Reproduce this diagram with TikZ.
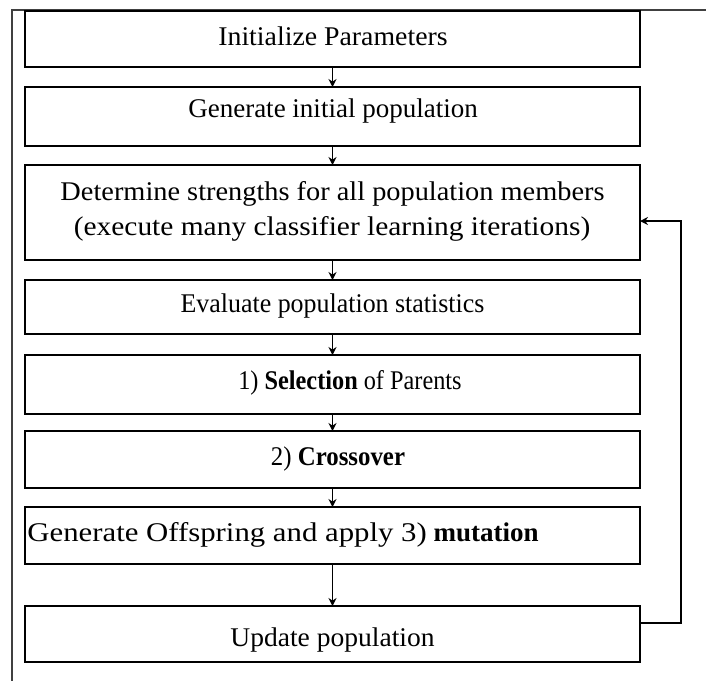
\documentclass[tikz,border=0pt]{standalone}
\usepackage{fontspec}
\setmainfont{Liberation Serif}
\usetikzlibrary{arrows.meta}
\newcommand{\wide}[2]{\scalebox{#1}[1]{#2}}
\begin{document}
\begin{tikzpicture}[x=0.5pt,y=-0.5pt,
  stagebox/.style={draw=black,line width=1.1pt,fill=white},
  lbl/.style={font=\fontsize{13.5}{16}\selectfont,inner sep=0pt},
  flow/.style={draw=black,line width=0.6pt,-{Stealth[length=4pt,width=4pt]}},
  frameline/.style={draw=black!75,line width=0.6pt}]
  \useasboundingbox (0,0) rectangle (706,681);
  % outer frame (top and left sides only)
  \draw[frameline] (706,10) -- (12,10) -- (12,681);
  % process stages
  \draw[stagebox] (25,11) rectangle (640,67);
  \draw[stagebox] (25,87) rectangle (640,146);
  \draw[stagebox] (25,165) rectangle (640,260);
  \draw[stagebox] (25,280) rectangle (640,334);
  \draw[stagebox] (25,355) rectangle (640,414);
  \draw[stagebox] (25,431) rectangle (640,488);
  \draw[stagebox] (25,507) rectangle (640,564);
  \draw[stagebox] (25,606) rectangle (640,662);
  \coordinate (b1) at (332.5,67);  \coordinate (t2) at (332.5,87);
  \coordinate (b2) at (332.5,146); \coordinate (t3) at (332.5,165);
  \coordinate (b3) at (332.5,260); \coordinate (t4) at (332.5,280);
  \coordinate (b4) at (332.5,334); \coordinate (t5) at (332.5,355);
  \coordinate (b5) at (332.5,414); \coordinate (t6) at (332.5,431);
  \coordinate (b6) at (332.5,488); \coordinate (t7) at (332.5,507);
  \coordinate (b7) at (332.5,564); \coordinate (t8) at (332.5,606);
  \coordinate (r8) at (640,623);   \coordinate (r3) at (640,221);
  \coordinate (loopA) at (681,623); \coordinate (loopB) at (681,221);
  % labels
  \node[lbl] (n1) at (333,36) {\wide{1.03}{Initialize Parameters}};
  \node[lbl] (n2) at (333,111) {Generate initial population};
  \node[lbl] (n3a) at (332.5,194) {\wide{1.05}{Determine strengths for all population members}};
  \node[lbl] (n3b) at (332,229) {\wide{1.09}{(execute many classifier learning iterations)}};
  \node[lbl] (n4) at (332.5,306) {\wide{0.96}{Evaluate population statistics}};
  \node[lbl] (n5) at (350,383) {\wide{0.9}{1) \textbf{Selection} of Parents}};
  \node[lbl] (n6) at (338,459) {\wide{0.92}{2) \textbf{Crossover}}};
  \node[lbl,anchor=west] (n7) at (27,535) {\wide{1.14}{Generate Offspring and apply 3)} \textbf{mutation}};
  \node[lbl] (n8) at (332.5,640) {\wide{1.02}{Update population}};
  % connectors
  \draw[flow] (b1) -- (t2);
  \draw[flow] (b2) -- (t3);
  \draw[flow] (b3) -- (t4);
  \draw[flow] (b4) -- (t5);
  \draw[flow] (b5) -- (t6);
  \draw[flow] (b6) -- (t7);
  \draw[flow] (b7) -- (t8);
  \draw[flow] (r8) -- (loopA) -- (loopB) -- (r3);
\end{tikzpicture}
\end{document}
